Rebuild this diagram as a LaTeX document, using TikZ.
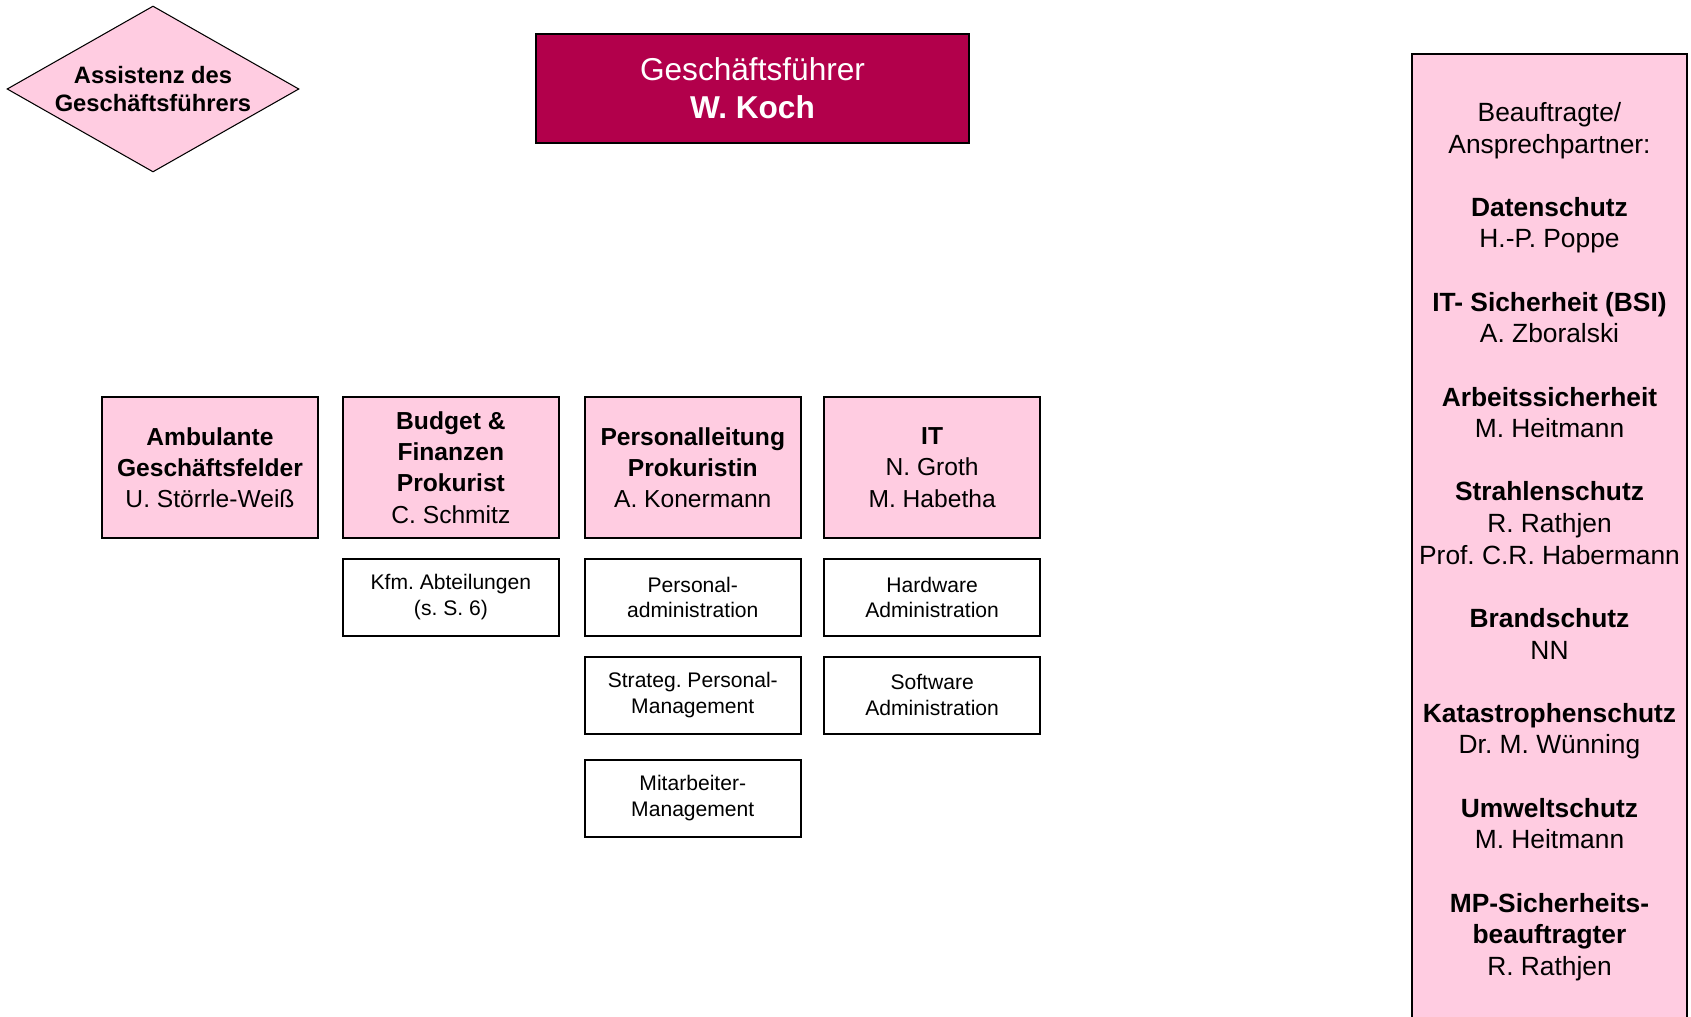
\documentclass[tikz,border=0pt]{standalone}
\usepackage{fontspec}
\setmainfont{Liberation Sans}
\usepackage{xcolor}
\usepackage{tikz}
\usetikzlibrary{shapes,positioning}
\definecolor{rosa}{HTML}{FFCCE1}
\definecolor{bordeaux}{HTML}{B2004B}
\frenchspacing

\begin{document}
\begin{tikzpicture}[
    x=0.02cm, y=-0.02cm,
    leit/.style={draw, rectangle, fill=rosa, line width=1.1pt, minimum width=4.32cm, minimum height=2.82cm, align=center, inner sep=0pt, font=\fontsize{14}{17.8}\selectfont},
    abt/.style={draw, rectangle, fill=white, line width=1.1pt, minimum width=4.32cm, minimum height=1.54cm, align=center, inner sep=0pt, font=\fontsize{12}{14.7}\selectfont}
]
    \useasboundingbox (0,0) rectangle (1691,1017);
    \clip (0,0) rectangle (1691,1017);

    \node [draw, rectangle, fill=bordeaux, text=white, line width=1.1pt, minimum width=8.66cm, minimum height=2.18cm, align=center, font=\fontsize{18}{21.6}\selectfont] (gf) at (752.5,88.5) {Geschäftsführer\\\textbf{W. Koch}};
    \node [draw, diamond, fill=rosa, line width=0.6pt, aspect=1.76, inner sep=0pt, minimum width=5.84cm, minimum height=3.32cm, align=center, font=\fontsize{13.5}{16}\selectfont\bfseries] (assist) at (153,89) {Assistenz des\\Geschäftsführers};

    % Leitungsebene
    \node [leit] (amb) at (210,467.5) {\textbf{Ambulante}\\\textbf{Geschäftsfelder}\\U. Störrle-Weiß};
    \node [leit, right=0.46cm of amb] (bud) {\textbf{Budget \&}\\\textbf{Finanzen}\\\textbf{Prokurist}\\C. Schmitz};
    \node [leit, right=0.48cm of bud] (pers) {\textbf{Personalleitung}\\\textbf{Prokuristin}\\A. Konermann};
    \node [leit, right=0.43cm of pers] (it) {\textbf{IT}\\N. Groth\\M. Habetha};

    % Abteilungen
    \node [abt, below=0.38cm of bud] (kfm) {Kfm. Abteilungen\\(s. S. 6)};
    \node [abt, below=0.38cm of pers] (padm) {Personal-\\administration};
    \node [abt, below=0.38cm of padm] (strat) {Strateg. Personal-\\Management};
    \node [abt, below=0.48cm of strat] (mitarb) {Mitarbeiter-\\Management};
    \node [abt, below=0.38cm of it] (hw) {Hardware\\Administration};
    \node [abt, below=0.38cm of hw] (sw) {Software\\Administration};

    % Beauftragte
    \node [draw, rectangle, fill=rosa, line width=1.1pt, minimum width=5.5cm, minimum height=20cm, anchor=north] (beauf) at (1549.5,53) {};
    \node [below=0.98cm of beauf.north, align=center, inner sep=0pt, font=\fontsize{15}{18}\selectfont] (beauftxt) {Beauftragte/\\Ansprechpartner:\\[18pt]
        \textbf{Datenschutz}\\H.-P. Poppe\\[18pt]
        \textbf{IT- Sicherheit (BSI)}\\A. Zboralski\\[18pt]
        \textbf{Arbeitssicherheit}\\M. Heitmann\\[18pt]
        \textbf{Strahlenschutz}\\R. Rathjen\\Prof. C.R. Habermann\\[18pt]
        \textbf{Brandschutz}\\NN\\[18pt]
        \textbf{Katastrophenschutz}\\Dr. M. Wünning\\[18pt]
        \textbf{Umweltschutz}\\M. Heitmann\\[18pt]
        \textbf{MP-Sicherheits-}\\\textbf{beauftragter}\\R. Rathjen};
\end{tikzpicture}
\end{document}
